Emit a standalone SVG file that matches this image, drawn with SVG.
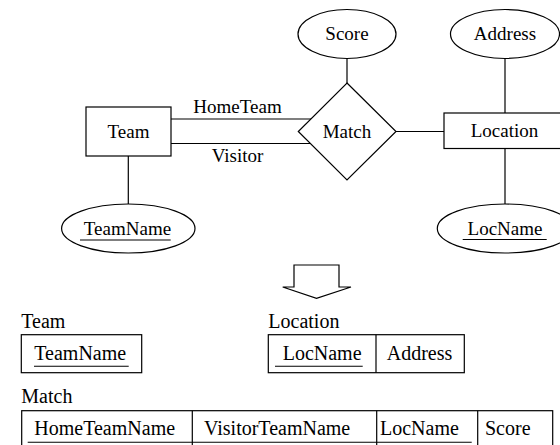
<svg xmlns="http://www.w3.org/2000/svg" width="560" height="445" viewBox="0 0 560 445">
  <style>
    .shape { fill: #ffffff; stroke: #000000; stroke-width: 1.2; }
    .line { fill: none; stroke: #000000; stroke-width: 1.2; }
    .ul { fill: none; stroke: #000000; stroke-width: 1.1; }
    text { font-family: "Liberation Serif", "Times New Roman", serif; fill: #000000; }
    .er { font-size: 19px; text-anchor: middle; }
    .tb { font-size: 20px; }
  </style>
  <rect width="560" height="445" fill="#ffffff"/>

  <!-- ER connectors -->
  <g id="connectors">
    <line class="line" x1="171" y1="119" x2="311" y2="119"/>
    <line class="line" x1="171" y1="143.5" x2="311" y2="143.5"/>
    <line class="line" x1="396" y1="131.5" x2="444" y2="131.5"/>
    <line class="line" x1="347" y1="58.5" x2="347" y2="83"/>
    <line class="line" x1="505" y1="58.5" x2="505" y2="113"/>
    <line class="line" x1="505" y1="148.5" x2="505" y2="204"/>
    <line class="line" x1="128.3" y1="156" x2="128.3" y2="204"/>
    <text class="er" x="237.5" y="112.5">HomeTeam</text>
    <text class="er" x="237.5" y="162">Visitor</text>
  </g>

  <!-- ER nodes -->
  <g id="team">
    <rect class="shape" x="86" y="107" width="85" height="49"/>
    <text class="er" x="128.5" y="137.5">Team</text>
  </g>
  <g id="match">
    <polygon class="shape" points="347,83 396,131.5 347,180 298.3,131.5"/>
    <text class="er" x="347" y="137.5">Match</text>
  </g>
  <g id="location">
    <rect class="shape" x="444" y="113" width="124" height="35.5"/>
    <text class="er" x="504.5" y="137">Location</text>
  </g>
  <g id="score">
    <ellipse class="shape" cx="347" cy="34" rx="49" ry="24.5"/>
    <text class="er" x="347" y="40">Score</text>
  </g>
  <g id="address">
    <ellipse class="shape" cx="505" cy="34" rx="54.5" ry="24.5"/>
    <text class="er" x="505" y="40">Address</text>
  </g>
  <g id="teamname">
    <ellipse class="shape" cx="128.3" cy="228.5" rx="66.7" ry="24.5"/>
    <text class="er" x="127.5" y="234.5">TeamName</text>
    <line class="ul" x1="80" y1="240" x2="170.7" y2="240"/>
  </g>
  <g id="locname">
    <ellipse class="shape" cx="505" cy="228.5" rx="67.7" ry="24.5"/>
    <text class="er" x="505" y="234.5">LocName</text>
    <line class="ul" x1="462.7" y1="239.5" x2="546.7" y2="239.5"/>
  </g>

  <!-- mapping arrow -->
  <g id="arrow">
    <polygon class="shape" points="294,265 339,265 339,287 351,287 316.5,298.3 282.7,287 294,287"/>
  </g>

  <!-- relational tables -->
  <g id="team-table">
    <text class="tb" x="21.3" y="327.7">Team</text>
    <rect class="shape" x="21.3" y="334.7" width="120.4" height="38"/>
    <text class="tb" x="34.3" y="360">TeamName</text>
    <line class="ul" x1="34" y1="366.3" x2="128.7" y2="366.3"/>
  </g>
  <g id="location-table">
    <text class="tb" x="268.3" y="327.7">Location</text>
    <rect class="shape" x="268.3" y="334.7" width="196" height="38"/>
    <line class="line" x1="376" y1="334.7" x2="376" y2="372.7"/>
    <text class="tb" x="282.7" y="360">LocName</text>
    <line class="ul" x1="275" y1="366.3" x2="362.7" y2="366.3"/>
    <text class="tb" x="386.7" y="360">Address</text>
  </g>
  <g id="match-table">
    <text class="tb" x="21.3" y="403.3">Match</text>
    <rect class="shape" x="21.7" y="410.7" width="531" height="48"/>
    <line class="line" x1="192.3" y1="410.7" x2="192.3" y2="458.7"/>
    <line class="line" x1="376.7" y1="410.7" x2="376.7" y2="458.7"/>
    <line class="line" x1="477.7" y1="410.7" x2="477.7" y2="458.7"/>
    <text class="tb" x="34.3" y="435">HomeTeamName</text>
    <text class="tb" x="204" y="435">VisitorTeamName</text>
    <text class="tb" x="380" y="435">LocName</text>
    <text class="tb" x="485" y="435">Score</text>
    <line class="ul" x1="27.7" y1="442.3" x2="471.7" y2="442.3"/>
  </g>
</svg>
